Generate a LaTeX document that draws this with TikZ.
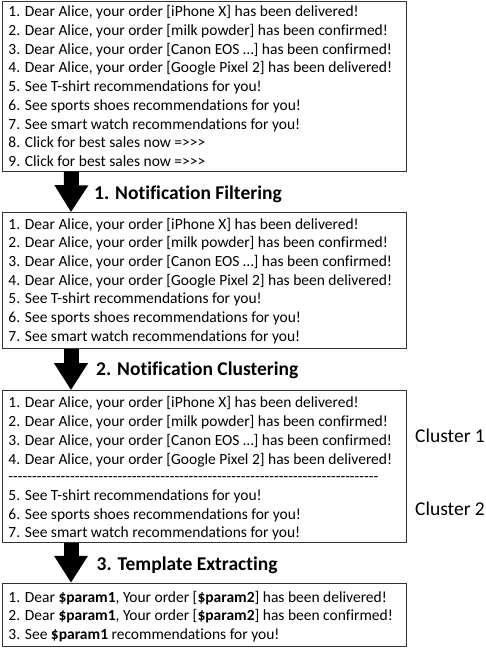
\documentclass[tikz,border=0pt]{standalone}
\usepackage{fontspec}
\setmainfont{Carlito}[Ligatures={NoCommon}]
\usetikzlibrary{arrows.meta}
\tikzset{
  box/.style={draw=black!80, line width=1pt, rectangle, inner sep=0pt},
  ln/.style={anchor=base west, inner sep=0pt, font=\fontsize{15.5}{18}\selectfont},
  ttl/.style={anchor=base west, inner sep=0pt, font=\fontsize{19.5}{22}\selectfont\bfseries},
  cl/.style={anchor=base west, inner sep=0pt, font=\fontsize{19.5}{22}\selectfont},
  bigarrow/.style={line width=15pt, -{Triangle[width=32pt,length=27pt]}, black},
}
\newcommand{\gtr}{=\kern0pt>\kern0pt>\kern0pt>}
\begin{document}
\begin{tikzpicture}[x=1pt,y=-1pt]
\useasboundingbox (0,0) rectangle (485,648);
% boxes
\node[box, minimum width=404pt, minimum height=170pt] (b1) at (204.5,86) {};
\node[box, minimum width=404.5pt, minimum height=135.3pt] (b2) at (204.25,280.35) {};
\node[box, minimum width=404.5pt, minimum height=152pt] (b3) at (204.25,466.7) {};
\node[box, minimum width=404.5pt, minimum height=63.4pt] (b4) at (204.25,615) {};
% box 1 lines
\foreach \t [count=\i from 0] in {
 {1. Dear Alice, your order [iPhone X] has been delivered!},
 {2. Dear Alice, your order [milk powder] has been confirmed!},
 {3. Dear Alice, your order [Canon EOS …] has been confirmed!},
 {4. Dear Alice, your order [Google Pixel 2] has been delivered!},
 {5. See T-shirt recommendations for you!},
 {6. See sports shoes recommendations for you!},
 {7. See smart watch recommendations for you!},
 {8. Click for best sales now \gtr},
 {9. Click for best sales now \gtr}}
  \node[ln] (a\i) at (8.3,{16.8+18.7*\i}) {\t};
% box 2 lines
\foreach \t [count=\i from 0] in {
 {1. Dear Alice, your order [iPhone X] has been delivered!},
 {2. Dear Alice, your order [milk powder] has been confirmed!},
 {3. Dear Alice, your order [Canon EOS …] has been confirmed!},
 {4. Dear Alice, your order [Google Pixel 2] has been delivered!},
 {5. See T-shirt recommendations for you!},
 {6. See sports shoes recommendations for you!},
 {7. See smart watch recommendations for you!}}
  \node[ln] (c\i) at (8.3,{229.1+18.7*\i}) {\t};
% box 3 lines
\foreach \t [count=\i from 0] in {
 {1. Dear Alice, your order [iPhone X] has been delivered!},
 {2. Dear Alice, your order [milk powder] has been confirmed!},
 {3. Dear Alice, your order [Canon EOS …] has been confirmed!},
 {4. Dear Alice, your order [Google Pixel 2] has been delivered!}}
  \node[ln] (d\i) at (8.3,{407.5+18.9*\i}) {\t};
\node[ln] (dash) at (8.3,481.3) {\makebox[372pt][l]{\leaders\hbox{-}\hfill}};
\foreach \t [count=\i from 0] in {
 {5. See T-shirt recommendations for you!},
 {6. See sports shoes recommendations for you!},
 {7. See smart watch recommendations for you!}}
  \node[ln] (e\i) at (8.3,{500.5+18.5*\i}) {\t};
\node[cl] (cl1) at (415,442.5) {Cluster 1};
\node[cl] (cl2) at (415,515.8) {Cluster 2};
% box 4 lines
\node[ln] (f0) at (8.3,602.1) {1. Dear \textbf{\$param1}, Your order [\textbf{\$param2}] has been delivered!};
\node[ln] (f1) at (8.3,620.8) {2. Dear \textbf{\$param1}, Your order [\textbf{\$param2}] has been confirmed!};
\node[ln] (f2) at (8.3,639.1) {3. See \textbf{\$param1} recommendations for you!};
% arrows
\draw[bigarrow] ([xshift=69.5pt]b1.south west) -- ([xshift=69.5pt]b2.north west);
\draw[bigarrow] ([xshift=69.5pt]b2.south west) -- ([xshift=69.5pt]b3.north west);
\draw[bigarrow] ([xshift=69.5pt]b3.south west) -- ([xshift=69.5pt]b4.north west);
% titles
\node[ttl] (t1) at (94,199.5) {1. Notification Filtering};
\node[ttl] (t2) at (96,375) {2. Notification Clustering};
\node[ttl] (t3) at (96.5,570.8) {3. Template Extracting};
\end{tikzpicture}
\end{document}
